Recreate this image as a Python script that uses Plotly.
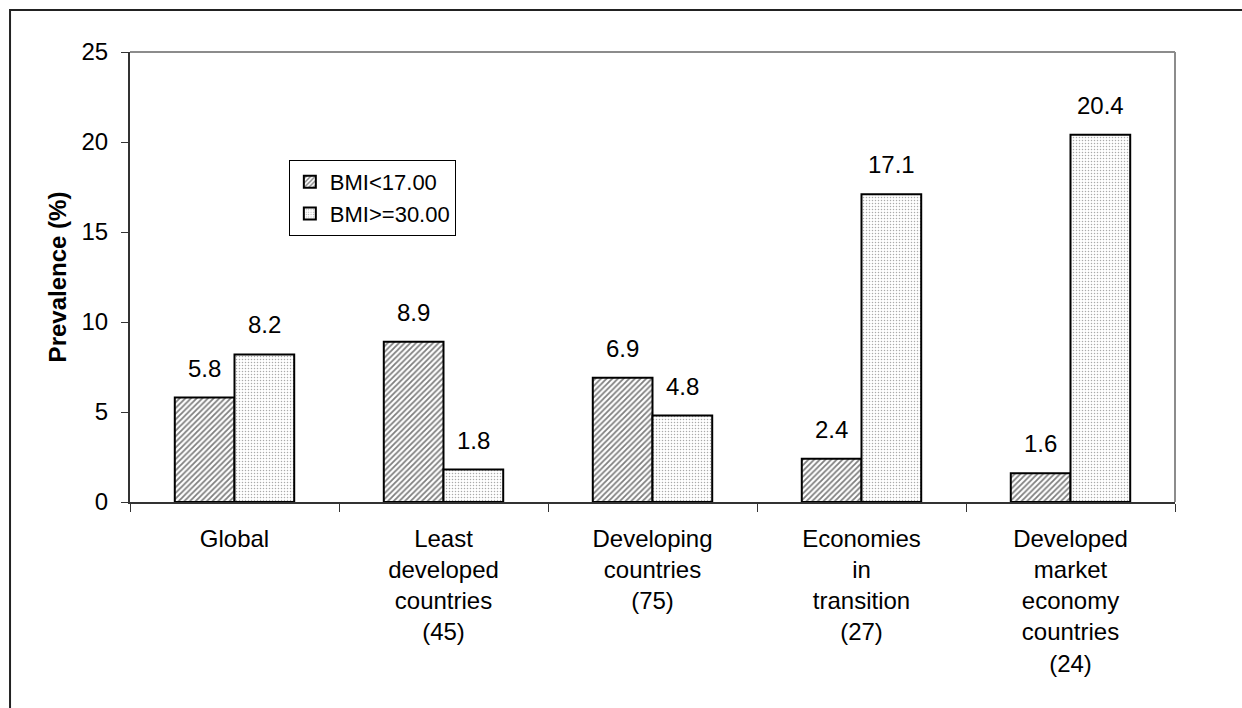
import plotly.graph_objects as go

# Country groupings (number of countries in brackets)
categories = [
    "Global",
    "Least<br>developed<br>countries<br>(45)",
    "Developing<br>countries<br>(75)",
    "Economies<br>in<br>transition<br>(27)",
    "Developed<br>market<br>economy<br>countries<br>(24)",
]
underweight = [5.8, 8.9, 6.9, 2.4, 1.6]   # BMI < 17.00, %
obese = [8.2, 1.8, 4.8, 17.1, 20.4]       # BMI >= 30.00, %
y_ticks = [0, 5, 10, 15, 20, 25]

FONT = "Arial, Liberation Sans, sans-serif"
FS = 24

fig = go.Figure()
fig.add_trace(go.Bar(
    name="BMI<17.00", x=categories, y=underweight,
    marker=dict(color="white", line=dict(color="black", width=2),
                pattern=dict(shape="/", fgcolor="black", bgcolor="white",
                             size=4, solidity=0.45)),
))
fig.add_trace(go.Bar(
    name="BMI>=30.00", x=categories, y=obese,
    marker=dict(color="white", line=dict(color="black", width=2),
                pattern=dict(shape=".", fgcolor="#555555", bgcolor="white",
                             size=3, solidity=0.2)),
))

# value labels above each bar
for vals, shift in ((underweight, -30), (obese, 30)):
    for c, v in zip(categories, vals):
        fig.add_annotation(x=c, y=v, text=f"{v:.1f}", showarrow=False,
                           xshift=shift, yshift=14, yanchor="bottom",
                           font=dict(size=FS, color="black", family=FONT))

# gray top/right edges of the plot area
fig.add_shape(type="line", xref="paper", yref="paper", x0=0, x1=1, y0=1, y1=1,
              line=dict(color="#8c8c8c", width=2))
fig.add_shape(type="line", xref="paper", yref="paper", x0=1, x1=1, y0=0, y1=1,
              line=dict(color="#8c8c8c", width=2))
# outer chart frame
fig.add_shape(type="rect", xref="paper", yref="paper",
              x0=-0.1148, x1=1.2, y0=-0.6, y1=1.0933,
              line=dict(color="#222222", width=2))

fig.update_layout(
    width=1242, height=708,
    margin=dict(l=130, r=67, t=52, b=206),
    paper_bgcolor="white", plot_bgcolor="white",
    barmode="group", bargap=0.4286, bargroupgap=0,
    font=dict(family=FONT, size=FS, color="black"),
    showlegend=True,
    legend=dict(x=0.152, y=0.76, xanchor="left", yanchor="top",
                bordercolor="black", borderwidth=1, bgcolor="white",
                font=dict(size=22, family=FONT), tracegroupgap=0,
                itemwidth=30),
)
fig.update_xaxes(
    type="category", showline=True, linecolor="#333333", linewidth=2,
    ticks="outside", tickson="boundaries", ticklen=8, tickcolor="#333333",
    tickfont=dict(size=FS, family=FONT, color="black"), showgrid=False,
    ticklabelstandoff=14,
)
fig.update_yaxes(
    range=[0, 25], tickvals=y_ticks, showline=True, linecolor="#333333",
    linewidth=2, ticks="outside", ticklen=7, tickcolor="#333333",
    tickfont=dict(size=FS, family=FONT, color="black"), showgrid=False,
    zeroline=False, ticklabelstandoff=8,
    title=dict(text="<b>Prevalence (%)</b>", font=dict(size=FS, family=FONT),
               standoff=8),
)

fig.write_html("out.html")
